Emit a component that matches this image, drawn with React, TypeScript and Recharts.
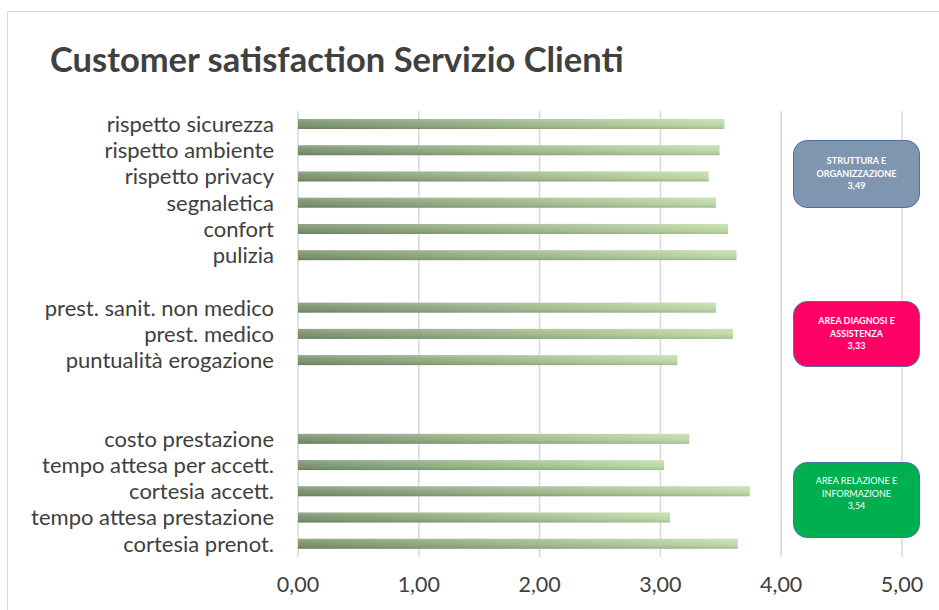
import React from 'react';
import { BarChart, Bar, XAxis, YAxis, CartesianGrid } from 'recharts';

const categories = [
  'rispetto sicurezza',
  'rispetto ambiente',
  'rispetto privacy',
  'segnaletica',
  'confort',
  'pulizia',
  '',
  'prest. sanit. non medico',
  'prest. medico',
  'puntualità erogazione',
  '',
  '',
  'costo prestazione',
  'tempo attesa per accett.',
  'cortesia accett.',
  'tempo attesa prestazione',
  'cortesia prenot.',
];

const scores: (number | null)[] = [
  3.53, 3.49, 3.4, 3.46, 3.56, 3.63, null, 3.46, 3.6, 3.14, null, null, 3.24, 3.03, 3.74, 3.08, 3.64,
];

const xTicks = [0, 1, 2, 3, 4, 5];

const areaNames = [
  ['STRUTTURA E', 'ORGANIZZAZIONE'],
  ['AREA DIAGNOSI E', 'ASSISTENZA'],
  ['AREA RELAZIONE E', 'INFORMAZIONE'],
];
const areaScores = ['3,49', '3,33', '3,54'];

const title = 'Customer satisfaction Servizio Clienti';

const data = categories.map((label, i) => ({ id: 'row' + i, label, value: scores[i] }));
const labelById: Record<string, string> = {};
data.forEach((d) => {
  labelById[d.id] = d.label;
});

const FONT = 'Lato, "Open Sans", sans-serif';

const areaStyles = [
  { top: 140, height: 68, bg: '#7f96b1', weight: 700, pad: 0 },
  { top: 301, height: 66, bg: '#ff0066', weight: 700, pad: 0 },
  { top: 462, height: 76, bg: '#00b050', weight: 400, pad: 12 },
];

const GradientBar = (props: any) => {
  const { x, y, width, height } = props;
  if (width == null || width <= 0 || height == null) return null;
  return (
    <g>
      <rect x={x} y={y} width={width} height={height} fill="url(#barH)" />
      <rect x={x} y={y} width={width} height={height} fill="url(#barV)" />
    </g>
  );
};

export default function App() {
  return (
    <div
      style={{
        position: 'fixed',
        left: 0,
        top: 0,
        width: 939,
        height: 610,
        background: '#ffffff',
        overflow: 'hidden',
        fontFamily: FONT,
      }}
    >
      <div
        style={{
          position: 'absolute',
          left: 7,
          top: 11,
          width: 960,
          height: 640,
          border: '1.5px solid #d9d9d9',
          boxSizing: 'border-box',
        }}
      />
      <div
        style={{
          position: 'absolute',
          left: 50,
          top: 36,
          fontSize: 34.5,
          fontWeight: 700,
          color: '#404040',
          whiteSpace: 'nowrap',
          lineHeight: '46px',
        }}
      >
        {title}
      </div>
      <div style={{ position: 'absolute', left: 0, top: 0 }}>
        <BarChart
          width={939}
          height={610}
          data={data}
          layout="vertical"
          margin={{ top: 111, right: 37, bottom: 0, left: 0 }}
          barCategoryGap={0}
        >
          <defs>
            <linearGradient id="barH" x1="0" y1="0" x2="1" y2="0">
              <stop offset="0%" stopColor="#76906a" />
              <stop offset="100%" stopColor="#bedba7" />
            </linearGradient>
            <linearGradient id="barV" x1="0" y1="0" x2="0" y2="1">
              <stop offset="0%" stopColor="#ffffff" stopOpacity={0.22} />
              <stop offset="45%" stopColor="#ffffff" stopOpacity={0.05} />
              <stop offset="100%" stopColor="#000000" stopOpacity={0.14} />
            </linearGradient>
          </defs>
          <CartesianGrid horizontal={false} stroke="#d9d9d9" strokeWidth={1.5} />
          <XAxis
            type="number"
            domain={[0, 5]}
            ticks={xTicks}
            interval={0}
            height={53}
            axisLine={false}
            tickLine={false}
            tickSize={6}
            tickMargin={14}
            tickFormatter={(v: number) => v.toFixed(2).replace('.', ',')}
            tick={{ fontSize: 21.5, fill: '#404040', fontFamily: FONT }}
          />
          <YAxis
            type="category"
            dataKey="id"
            width={298}
            interval={0}
            axisLine={false}
            tickLine={false}
            tickSize={6}
            tickMargin={18}
            tickFormatter={(v: string) => labelById[v] || ''}
            tick={{ fontSize: 22, fill: '#404040', fontFamily: FONT }}
          />
          <Bar dataKey="value" barSize={10} isAnimationActive={false} shape={GradientBar} />
        </BarChart>
      </div>
      {areaNames.map((lines, i) => {
        const s = areaStyles[i];
        return (
          <div
            key={i}
            style={{
              position: 'absolute',
              left: 793,
              top: s.top,
              width: 127,
              height: s.height,
              boxSizing: 'border-box',
              borderRadius: 14,
              background: s.bg,
              border: '1.5px solid #4f71a0',
              color: '#ffffff',
              fontSize: 9,
              fontWeight: s.weight,
              lineHeight: '12.5px',
              display: 'flex',
              flexDirection: 'column',
              alignItems: 'center',
              justifyContent: 'center',
              paddingBottom: s.pad,
              textAlign: 'center',
            }}
          >
            {lines.map((l, j) => (
              <div key={j}>{l}</div>
            ))}
            <div>{areaScores[i]}</div>
          </div>
        );
      })}
    </div>
  );
}
